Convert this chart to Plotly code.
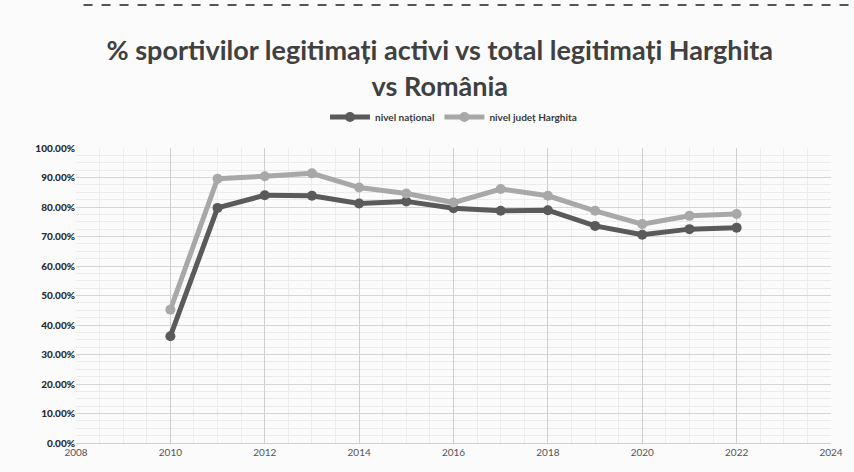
"""
% sportivi legitimati activi - Harghita vs Romania
"""
import plotly.graph_objects as go

years = [2010, 2011, 2012, 2013, 2014, 2015, 2016, 2017, 2018, 2019, 2020, 2021, 2022]
nivel_national = [36.2, 79.7, 84.0, 83.8, 81.2, 81.9, 79.6, 78.7, 78.9, 73.6, 70.6, 72.5, 73.0]
nivel_harghita = [45.2, 89.6, 90.4, 91.4, 86.6, 84.6, 81.5, 86.1, 83.8, 78.7, 74.2, 77.0, 77.6]

title_text = "<b>% sportivilor legitimați activi vs total legitimați Harghita<br>vs România</b>"
font_family = "Lato, Open Sans, sans-serif"

fig = go.Figure()

fig.add_trace(go.Scatter(x=years, y=nivel_national, name="<b>nivel național</b>",
                         mode="lines+markers",
                         line=dict(color="#5a5a5a", width=5),
                         marker=dict(size=10, color="#5a5a5a")))
fig.add_trace(go.Scatter(x=years, y=nivel_harghita, name="<b>nivel județ Harghita</b>",
                         mode="lines+markers",
                         line=dict(color="#a8a8a8", width=5),
                         marker=dict(size=10, color="#a8a8a8")))

fig.update_layout(
    width=854, height=472,
    margin=dict(l=76, r=23, t=148, b=29),
    paper_bgcolor="#fbfbfb",
    plot_bgcolor="#fbfbfb",
    font=dict(family=font_family, color="#3a3a3a"),
    title=dict(text=title_text, x=0.515, xanchor="center", y=0.872, yanchor="top",
               font=dict(size=27, color="#404040", family=font_family)),
    legend=dict(orientation="h", x=0.5, xanchor="center", y=1.105, yanchor="middle",
                font=dict(size=10, color="#3a3a3a"), bgcolor="rgba(0,0,0,0)",
                itemwidth=40),
    showlegend=True,
)

fig.update_xaxes(range=[2008, 2024], dtick=2, tick0=2008,
                 showgrid=True, gridcolor="#cfcfcf", gridwidth=1,
                 minor=dict(dtick=0.5, showgrid=True, gridcolor="#ececec"),
                 zeroline=False, showline=True, linecolor="#d0d0d0",
                 tickfont=dict(size=10, color="#555555"), ticks="")
fig.update_yaxes(range=[0, 100], dtick=10,
                 tickformat=".2f", ticksuffix="%",
                 showgrid=True, gridcolor="#d6d6d6", gridwidth=1,
                 minor=dict(dtick=2.5, showgrid=True, gridcolor="#ececec"),
                 zeroline=False, showline=False,
                 tickfont=dict(size=10, color="#2a2a2a", family="Lato Black, Lato, sans-serif"),
                 ticks="")

# scanned page edge line at the top
fig.add_shape(type="line", xref="paper", yref="paper", x0=0.01, x1=1.03, y0=1.485, y1=1.485,
              line=dict(color="#555555", width=2, dash="dash"))

# no page margin, so the figure sits at the window's corner
fig.write_html("out.html", config={"displayModeBar": False},
               post_script="document.body.style.margin = '0';")
